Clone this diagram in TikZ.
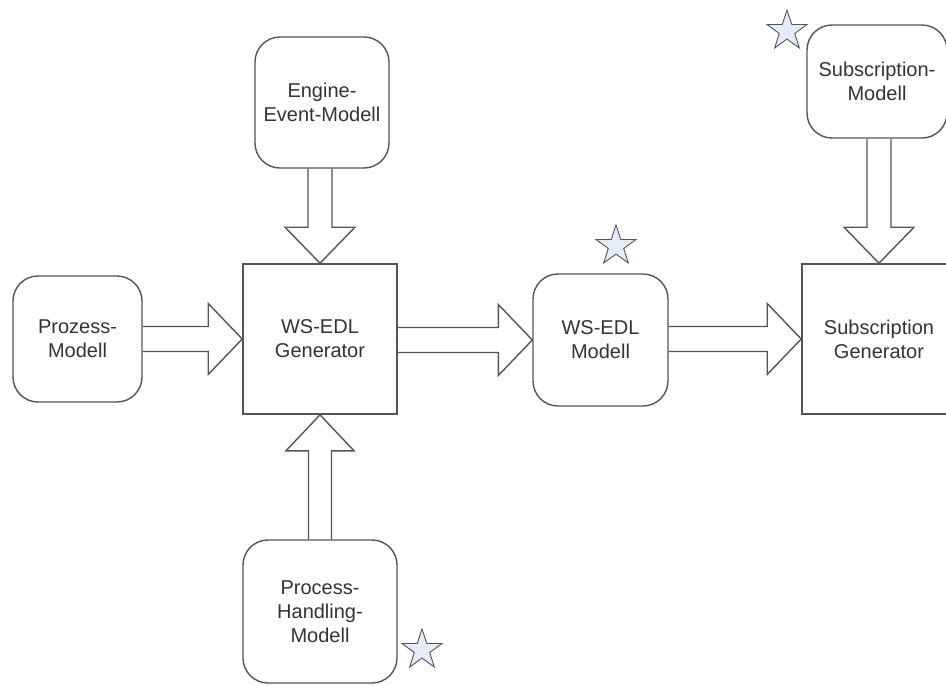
\documentclass[tikz,border=0pt]{standalone}
\usepackage{fontspec}
\setmainfont{Liberation Sans}
\usetikzlibrary{calc,shapes.geometric}

\definecolor{edge}{HTML}{555555}
\definecolor{ink}{HTML}{333333}
\definecolor{starfill}{HTML}{E6ECF7}

% horizontal block arrow from #1 to the west side of #2
\newcommand\blockright[2]{%
  \draw[blockarrow] ($(#1.east|-#2.center)+(0,-12.5)$) -- ($(#2.west)+(-34,-12.5)$)
    -- ($(#2.west)+(-34,-35.5)$) -- (#2.west) -- ($(#2.west)+(-34,35.5)$)
    -- ($(#2.west)+(-34,12.5)$) -- ($(#1.east|-#2.center)+(0,12.5)$);}
% vertical block arrow from #1 down to the north side of #2
\newcommand\blockdown[2]{%
  \draw[blockarrow] ($(#1.south-|#2.center)+(-12,0)$) -- ($(#2.north)+(-12,-36)$)
    -- ($(#2.north)+(-35,-36)$) -- (#2.north) -- ($(#2.north)+(35,-36)$)
    -- ($(#2.north)+(12,-36)$) -- ($(#1.south-|#2.center)+(12,0)$);}
% vertical block arrow from #1 up to the south side of #2
\newcommand\blockup[2]{%
  \draw[blockarrow] ($(#1.north-|#2.center)+(-11.5,0)$) -- ($(#2.south)+(-11.5,36)$)
    -- ($(#2.south)+(-34,36)$) -- (#2.south) -- ($(#2.south)+(34,36)$)
    -- ($(#2.south)+(11.5,36)$) -- ($(#1.north-|#2.center)+(11.5,0)$);}

\begin{document}
\begin{tikzpicture}[x=1pt,y=-1pt,
  every node/.style={font=\fontsize{20}{24}\selectfont, text=ink, align=center},
  model/.style={draw=edge, line width=1.4pt, fill=white, rounded corners=25pt, inner sep=0pt},
  gen/.style={draw=edge, line width=1.6pt, fill=white, inner sep=0pt},
  blockarrow/.style={draw=edge, line width=1.4pt, line join=miter},
  mark star/.style={draw=edge, line width=0.9pt, fill=starfill, star, star points=5,
    star point ratio=2.6, minimum size=42pt, inner sep=0pt}]
\clip (0,0) rectangle (946,686);
\useasboundingbox (0,0) rectangle (946,686);
\fill[white] (0,0) rectangle (946,686);

% model boxes
\node[model, minimum width=134pt, minimum height=131pt] (engine) at (322,102.5) {Engine-\\Event-Modell};
\node[model, minimum width=129pt, minimum height=126pt] (prozess) at (77.5,339) {Prozess-\\Modell};
\node[model, minimum width=154pt, minimum height=143pt] (handling) at (320,611.5) {Process-\\Handling-\\Modell};
\node[model, minimum width=135pt, minimum height=132pt] (wsmodel) at (600.5,340) {WS-EDL\\Modell};
\node[model, minimum width=140pt, minimum height=113pt] (submodel) at (877,81.5) {Subscription-\\Modell};

% generators
\node[gen, minimum width=154pt, minimum height=150pt] (wsgen) at (320,339) {WS-EDL\\Generator};
\node[gen, minimum width=154pt, minimum height=150pt] (subgen) at (879,339) {Subscription\\Generator};

% block arrows
\blockright{prozess}{wsgen}
\blockright{wsgen}{wsmodel}
\blockright{wsmodel}{subgen}
\blockdown{engine}{wsgen}
\blockdown{submodel}{subgen}
\blockup{handling}{wsgen}

% stars
\node[mark star] (star1) at (616,246) {};
\node[mark star] (star2) at (787,31) {};
\node[mark star] (star3) at (422,650) {};
\end{tikzpicture}
\end{document}
